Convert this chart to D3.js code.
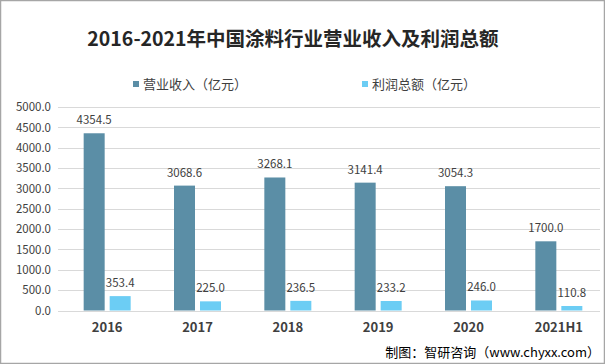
<!DOCTYPE html>
<html><head><meta charset="utf-8">
<script src="https://cdn.jsdelivr.net/npm/d3@7"></script>
<style>body{margin:0;background:#fff}svg{display:block}</style>
</head><body>
<script>
const categories = ["2016","2017","2018","2019","2020","2021H1"];
const revenue = [4354.5, 3068.6, 3268.1, 3141.4, 3054.3, 1700.0];
const profit = [353.4, 225.0, 236.5, 233.2, 246.0, 110.8];
const yTicks = [0,500,1000,1500,2000,2500,3000,3500,4000,4500,5000];
const seriesNames = ["营业收入（亿元）","利润总额（亿元）"];
const colors = ["#5b8ea6","#6ccdf4"];

const W=605,H=364;
const svg=d3.select("body").append("svg").attr("width",W).attr("height",H);
svg.append("rect").attr("x",0.5).attr("y",0.5).attr("width",W-1).attr("height",H-1).attr("fill","#fff").attr("stroke","#a6a6a6").attr("stroke-width",1.5);

const font="'Microsoft YaHei','Noto Sans CJK SC',sans-serif";
svg.append("text").attr("x",293).attr("y",46).attr("text-anchor","middle")
  .attr("font-family",font).attr("font-size",19.5).attr("font-weight","bold").attr("fill","#262626")
  .text("2016-2021年中国涂料行业营业收入及利润总额");

const x=d3.scaleBand().domain(categories).range([62,604]);
const y=d3.scaleLinear().domain([0,5000]).range([310.5,107]);

const g=svg.append("g");
yTicks.forEach(t=>{
  g.append("line").attr("x1",58).attr("x2",600).attr("y1",Math.round(y(t))+0.5).attr("y2",Math.round(y(t))+0.5)
   .attr("stroke","#d9d9d9").attr("stroke-width",1);
});
const yAxis=d3.axisLeft(y).tickValues(yTicks).tickFormat(d=>d3.format(".1f")(d)).tickSize(0).tickPadding(0);
const ya=svg.append("g").attr("transform","translate(51,0)").call(yAxis);
ya.select(".domain").remove();
ya.selectAll("text").attr("font-family",font).attr("font-size",11.5).attr("fill","#404040");

const xAxis=d3.axisBottom(x).tickSize(0).tickPadding(0);
const xa=svg.append("g").attr("transform","translate(0,323)").call(xAxis);
xa.select(".domain").remove();
xa.selectAll("text").attr("font-family",font).attr("font-size",13).attr("font-weight","bold").attr("fill","#404040").attr("dy","0.71em");

const bw=21;
const data=[revenue,profit];
data.forEach((vals,si)=>{
  const off = si===0 ? -bw-2.5 : 2.5;
  svg.append("g").selectAll("rect").data(vals).join("rect")
    .attr("x",(d,i)=>x(categories[i])+x.bandwidth()/2+off)
    .attr("y",d=>y(d)).attr("width",bw).attr("height",d=>y(0)-y(d))
    .attr("fill",colors[si]);
  svg.append("g").selectAll("text").data(vals).join("text")
    .attr("x",(d,i)=>x(categories[i])+x.bandwidth()/2+off+bw/2)
    .attr("y",d=>y(d)-9).attr("text-anchor","middle")
    .attr("font-family",font).attr("font-size",11.5).attr("fill","#404040")
    .text(d=>d3.format(".1f")(d));
});

const legX=[133,362];
seriesNames.forEach((n,i)=>{
  svg.append("rect").attr("x",legX[i]).attr("y",81).attr("width",6).attr("height",6).attr("fill",colors[i]);
  svg.append("text").attr("x",legX[i]+10).attr("y",89).attr("font-family",font).attr("font-size",13).attr("fill","#404040").text(n);
});

svg.append("text").attr("x",600).attr("y",357).attr("text-anchor","end")
  .attr("font-family",font).attr("font-size",13).attr("fill","#000").text("制图：智研咨询（www.chyxx.com）");
</script>
</body></html>
